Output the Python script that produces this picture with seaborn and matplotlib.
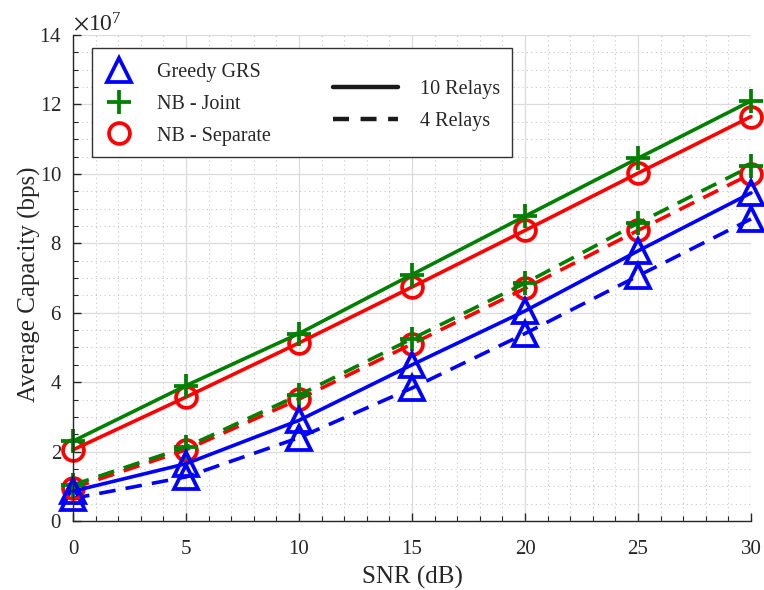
import numpy as np
import pandas as pd
import matplotlib
matplotlib.use("Agg")
import matplotlib.pyplot as plt
import seaborn as sns
from matplotlib.lines import Line2D
from matplotlib.patches import Rectangle
from matplotlib.ticker import MultipleLocator, ScalarFormatter

# ---------------- data ----------------
snr_db = [0, 5, 10, 15, 20, 25, 30]
greedy_10 = [0.86e7, 1.65e7, 2.90e7, 4.50e7, 6.05e7, 7.78e7, 9.45e7]
greedy_4 = [0.65e7, 1.27e7, 2.40e7, 3.83e7, 5.40e7, 7.06e7, 8.70e7]
nbjoint_10 = [2.30e7, 3.90e7, 5.40e7, 7.10e7, 8.78e7, 10.45e7, 12.10e7]
nbjoint_4 = [1.04e7, 2.13e7, 3.63e7, 5.25e7, 6.85e7, 8.58e7, 10.22e7]
nbsep_10 = [2.05e7, 3.57e7, 5.13e7, 6.74e7, 8.37e7, 10.02e7, 11.65e7]
nbsep_4 = [0.95e7, 2.05e7, 3.51e7, 5.10e7, 6.70e7, 8.37e7, 10.00e7]

x_ticks = [0, 5, 10, 15, 20, 25, 30]
y_ticks = [0, 2e7, 4e7, 6e7, 8e7, 10e7, 12e7, 14e7]
method_labels = ["Greedy GRS", "NB - Joint", "NB - Separate"]
relay_labels = ["10 Relays", "4 Relays"]
x_label = "SNR (dB)"
y_label = "Average Capacity (bps)"

# ---------------- style ----------------
sns.set_theme(style="white")
plt.rcParams["font.family"] = ["Liberation Serif", "DejaVu Serif"]
plt.rcParams["mathtext.fontset"] = "stix"

BLUE = (0, 0, 1)
GREEN = (0, 0.5, 0)
RED = (1, 0, 0)
LW = 2.6
MEW = 2.7
DASH = (4.6, 2.8)
TXT = (0.15, 0.15, 0.15)

fig = plt.figure(figsize=(7.64, 5.90), dpi=100)
ax = fig.add_axes([73 / 764, 1 - 521 / 590, (751 - 73) / 764, (521 - 35) / 590])

series = [
    (greedy_4, BLUE, "^", 17, True),
    (nbsep_4, RED, "o", 15, True),
    (nbjoint_4, GREEN, "+", 17, True),
    (greedy_10, BLUE, "^", 17, False),
    (nbsep_10, RED, "o", 15, False),
    (nbjoint_10, GREEN, "+", 17, False),
]
for vals, col, mk, ms, dashed in series:
    df = pd.DataFrame({"snr": snr_db, "cap": vals})
    sns.lineplot(data=df, x="snr", y="cap", ax=ax, color=col, lw=LW,
                 marker=mk, markersize=ms, markerfacecolor="none",
                 markeredgecolor=col, markeredgewidth=MEW,
                 legend=False, clip_on=False)
    line = ax.get_lines()[-1]
    if dashed:
        line.set_dashes(DASH)

ax.set_xlim(0, 30)
ax.set_ylim(0, 14e7)
ax.set_xticks(x_ticks)
ax.set_yticks(y_ticks)
ax.xaxis.set_minor_locator(MultipleLocator(1))
ax.yaxis.set_minor_locator(MultipleLocator(0.5e7))
fmt = ScalarFormatter(useMathText=True)
fmt.set_powerlimits((7, 7))
ax.yaxis.set_major_formatter(fmt)
ax.yaxis.get_offset_text().set_fontsize(17)
ax.yaxis.get_offset_text().set_color(TXT)

ax.grid(True, which="major", color=(0.86, 0.86, 0.86), lw=0.9, ls="-")
ax.grid(True, which="minor", color=(0.78, 0.78, 0.78), lw=0.8, ls=(0, (1, 3)))
ax.set_axisbelow(True)

for s in ["top", "right"]:
    ax.spines[s].set_visible(False)
for s in ["left", "bottom"]:
    ax.spines[s].set_color(TXT)
    ax.spines[s].set_linewidth(1.0)

ax.tick_params(which="both", direction="in", colors=TXT,
               labelsize=15, top=False, right=False, left=True, bottom=True)
ax.tick_params(which="major", length=6, width=1.0)
ax.tick_params(which="minor", length=3.5, width=0.8)
ax.tick_params(axis="x", pad=14)
ax.tick_params(axis="y", pad=8)
ax.set_xlabel(x_label, fontsize=18, labelpad=5, color=TXT)
ax.set_ylabel(y_label, fontsize=18, color=TXT)
ax.yaxis.set_label_coords(-0.047, 0.488)

# ---------------- legend ----------------
h_methods = [
    Line2D([], [], ls="none", marker="^", ms=17, mfc="none", mec=BLUE, mew=MEW),
    Line2D([], [], ls="none", marker="+", ms=17, mec=GREEN, mew=MEW),
    Line2D([], [], ls="none", marker="o", ms=15, mfc="none", mec=RED, mew=MEW),
]
h_relays = [
    Line2D([], [], color="k", lw=LW + 0.6),
    Line2D([], [], color="k", lw=LW + 0.6, dashes=(3.6, 2.6)),
]
ax.add_patch(Rectangle((19 / 678, (521 - 157) / 486), (512 - 92) / 678, (157 - 48) / 486,
                       transform=ax.transAxes, fill=True, facecolor="white",
                       edgecolor=(0.2, 0.2, 0.2), lw=1.0, zorder=5))
leg1 = ax.legend(h_methods, method_labels, loc="upper left",
                 bbox_to_anchor=(0.023, 0.975), frameon=False, fontsize=14.5,
                 handlelength=1.4, handletextpad=1.2, labelspacing=0.62,
                 borderpad=0.3)
leg1.set_zorder(6)
ax.add_artist(leg1)
leg2 = ax.legend(h_relays, relay_labels, loc="upper left",
                 bbox_to_anchor=(0.36, 0.94), frameon=False, fontsize=14.5,
                 handlelength=3.2, handletextpad=1.1, labelspacing=0.6,
                 borderpad=0.3)
leg2.set_zorder(6)

fig.savefig("out.png", dpi=100)
